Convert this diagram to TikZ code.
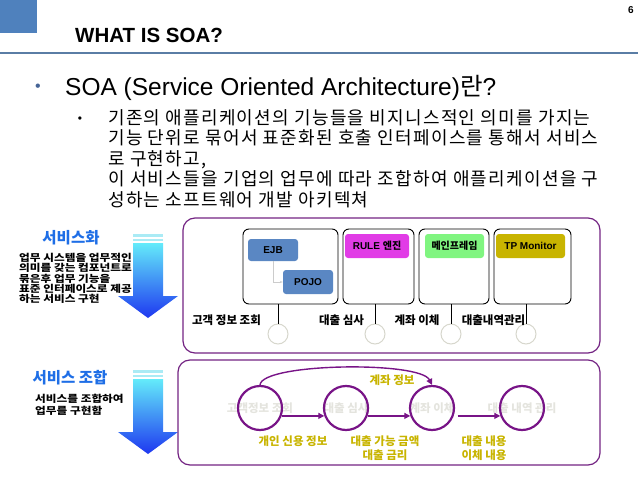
\documentclass[tikz,border=0pt]{standalone}
\usepackage{fontspec}
\setmainfont{Liberation Sans}
\newfontfamily\kr{Noto Sans CJK KR}
\newfontfamily\krwide{Noto Sans CJK KR}[LetterSpace=7]
\newfontfamily\krbold{Noto Sans CJK KR}[FakeStretch=1.19]
\usetikzlibrary{arrows.meta}

\definecolor{headblue}{RGB}{79,129,189}
\definecolor{ruleblue}{RGB}{90,125,165}
\definecolor{dotblue}{RGB}{70,100,150}
\definecolor{capblue}{RGB}{30,110,230}
\definecolor{boxpurple}{RGB}{115,35,130}
\definecolor{svcpurple}{RGB}{120,20,135}
\definecolor{flowolive}{RGB}{200,180,0}
\definecolor{tagblue}{RGB}{90,135,195}
\definecolor{tagmagenta}{RGB}{225,60,230}
\definecolor{taggreen}{RGB}{128,245,128}
\definecolor{tagolive}{RGB}{200,180,0}
\definecolor{ghostgray}{RGB}{228,228,222}
\definecolor{lolligray}{RGB}{215,215,205}
\definecolor{arrowtop}{RGB}{100,235,250}
\definecolor{arrowbot}{RGB}{30,55,240}
\definecolor{stripecyan}{RGB}{170,235,245}

\begin{document}
\begin{tikzpicture}[x=1pt,y=-1pt,
    svchead/.style={text=capblue, font=\kr\bfseries\fontsize{15.5}{16}\selectfont},
    note/.style={align=left, inner sep=0, font=\krbold\bfseries\fontsize{9.8}{10.3}\selectfont},
    modbox/.style={draw, rounded corners=6pt, line width=0.9pt, minimum height=75pt},
    tag/.style={rounded corners=3pt, inner sep=0, minimum height=24pt, font=\bfseries\fontsize{10}{10}\selectfont},
    lolli/.style={circle, draw=lolligray, fill=white, line width=1pt, minimum size=20pt, inner sep=0},
    iface/.style={font=\kr\bfseries\fontsize{11.5}{12}\selectfont},
    svc/.style={circle, draw=svcpurple, line width=2.2pt, minimum size=44pt, inner sep=0},
    ghost/.style={text=ghostgray, font=\kr\bfseries\fontsize{11.5}{12}\selectfont},
    flow/.style={draw=svcpurple, line width=1.4pt, -{Triangle[length=6pt,width=6pt]}},
    xfdata/.style={text=flowolive, align=center, font=\kr\bfseries\fontsize{11.5}{14}\selectfont}]
    \useasboundingbox (0,0) rectangle (638,479);

    % Header
    \fill[headblue] (0,0) rectangle (37,33);
    \draw[ruleblue, line width=2.5pt] (0,53) -- (638,53);
    \node[anchor=base west, inner sep=0, font=\bfseries\fontsize{20.5}{21}\selectfont] (title) at (75,42) {WHAT IS SOA?};
    \node[font=\bfseries\fontsize{10}{10}\selectfont] (pageno) at (631,10) {6};

    % Definition
    \node[text=dotblue, font=\fontsize{16}{16}\selectfont] (dot1) at (38,88) {•};
    \node[anchor=base west, inner sep=0, font=\fontsize{24.5}{25}\selectfont] (soa) at (65,95) {SOA (Service Oriented Architecture){\kr 란}?};
    \node[font=\fontsize{12}{12}\selectfont] (dot2) at (80,120) {•};
    \foreach \t [count=\i] in {{기존의 애플리케이션의 기능들을 비지니스적인 의미를 가지는},
                              {기능 단위로 묶어서 표준화된 호출 인터페이스를 통해서 서비스},
                              {로 구현하고,},
                              {이 서비스들을 기업의 업무에 따라 조합하여 애플리케이션을 구},
                              {성하는 소프트웨어 개발 아키텍쳐}}
        \node[anchor=base west, inner sep=0, font=\krwide\fontsize{18}{20}\selectfont] (desc\i) at (108,103.5+20.5*\i) {\t};

    % Left captions and arrows
    \node[svchead] (svcize) at (71,238) {서비스화};
    \node[note, anchor=north west] (svcnote) at (19,253) {업무 시스템을 업무적인\\의미를 갖는 컴포넌트로\\묶은후 업무 기능을\\표준 인터페이스로 제공\\하는 서비스 구현};
    \node[svchead] (svccomp) at (70,378) {서비스 조합};
    \node[note, anchor=north west, font=\krbold\bfseries\fontsize{9.8}{12}\selectfont] (compnote) at (35,394) {서비스를 조합하여\\업무를 구현함};
    \foreach \dy in {0,136} {
        \begin{scope}[shift={(0,\dy)}]
            \fill[stripecyan] (133,234) rectangle (163,236.5);
            \fill[stripecyan] (133,238.5) rectangle (163,241);
            \shade[top color=arrowtop, bottom color=arrowbot] (133,243) -- (163,243) -- (163,296) -- (178,296)
                -- (148,318) -- (118,296) -- (133,296) -- cycle;
        \end{scope}
    }

    % Services (upper frame)
    \draw[boxpurple, line width=1.2pt, rounded corners=12pt] (183,218) rectangle (600,353);
    \node[modbox, minimum width=95pt] (ejbbox) at (290.5,266.5) {};
    \node[modbox, minimum width=71pt] (rulebox) at (378.5,266.5) {};
    \node[modbox, minimum width=70pt] (mainbox) at (454,266.5) {};
    \node[modbox, minimum width=77pt] (tpbox) at (532.5,266.5) {};
    \node[tag, fill=tagblue, minimum width=50pt, minimum height=22pt] (ejb) at (273,250) {EJB};
    \node[tag, fill=tagblue, minimum width=50pt] (pojo) at (308,282) {POJO};
    \node[tag, fill=tagmagenta, minimum width=64pt] (rule) at (377,246) {RULE {\kr 엔진}};
    \node[tag, fill=taggreen, minimum width=59pt] (mainframe) at (454.5,246) {\kr 메인프레임};
    \node[tag, fill=tagolive, minimum width=69pt] (tpmon) at (530.5,246) {TP Monitor};
    \draw[black!20, line width=0.8pt, -{Stealth[length=3pt]}] (ejb.south) |- (pojo.west);

    % Interfaces
    \foreach \b/\n/\x in {ejbbox/if1/278, rulebox/if2/375, mainbox/if3/451, tpbox/if4/526} {
        \node[lolli] (\n) at (\x,334) {};
        \draw[line width=1pt] (\n.north) -- (\n.north |- \b.south);
    }
    \node[iface] (custq) at (226.5,320) {고객 정보 조회};
    \node[iface] (loanq) at (341.5,320) {대출 심사};
    \node[iface] (xferq) at (417,320) {계좌 이체};
    \node[iface] (histq) at (493.5,320) {대출내역관리};

    % Composition (lower frame)
    \draw[boxpurple, line width=1.2pt, rounded corners=12pt] (178,360) rectangle (600,465);
    \node[ghost] (custg) at (260,408) {고객정보 조회};
    \node[ghost] (loang) at (346,408) {대출 심사};
    \node[ghost] (xferg) at (432,408) {계좌 이체};
    \node[ghost] (histg) at (522,408) {대출 내역 관리};
    \node[svc] (cust) at (260,408) {};
    \node[svc] (loan) at (346,408) {};
    \node[svc] (xfer) at (432,408) {};
    \node[svc] (hist) at (522,408) {};
    \draw[flow] (cust.-20) -- (loan.-160);
    \draw[flow] (loan.-20) -- (xfer.-160);
    \draw[flow, shorten <=4pt] (xfer.-20) -- (hist.-160);
    \draw[flow] (cust.north) .. controls +(2,-22) and +(-12,-24) .. (xfer.north);

    % Exchanged data
    \node[xfdata] (acct) at (392,380) {계좌 정보};
    \node[xfdata] (credit) at (293,441) {개인 신용 정보};
    \node[xfdata] (limit) at (385,448) {대출 가능 금액\\대출 금리};
    \node[xfdata] (detail) at (484,448) {대출 내용\\이체 내용};
\end{tikzpicture}
\end{document}
